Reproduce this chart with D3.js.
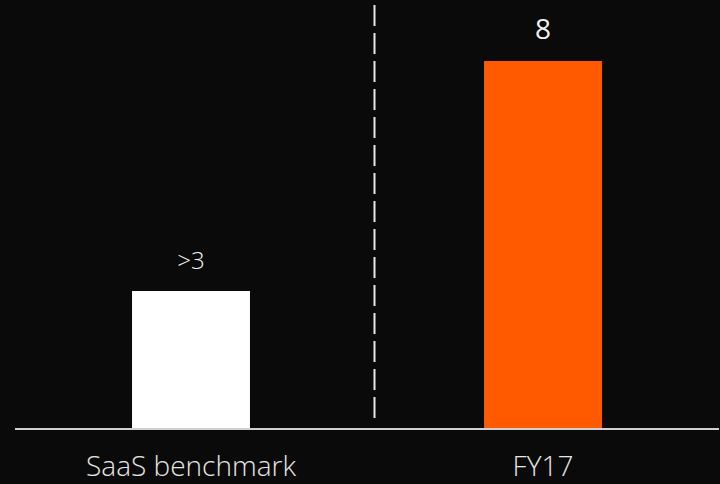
<!DOCTYPE html>
<html>
<head>
<meta charset="utf-8">
<script src="https://cdn.jsdelivr.net/npm/d3@7"></script>
<style>
  html, body { margin: 0; padding: 0; background: #0a0a0a; }
  svg { display: block; }
</style>
</head>
<body>
<svg class="svgMain" width="720" height="484"></svg>
<script>
// Two-bar comparison, dark theme.

var categories = ["SaaS benchmark", "FY17"];
var values = [3, 8];
var valueLabels = [">3", "8"];
var barColors = ["#ffffff", "#ff5a00"];

var W = 720, H = 484;
var BASE_Y = 429;
var TOP_Y = 61;
var DIVIDER_X = 374.5;

var svgMain = d3.select(".svgMain");

svgMain.append("rect")
    .attr("x", 0).attr("y", 0)
    .attr("width", W).attr("height", H)
    .attr("fill", "#0a0a0a");

var x = d3.scaleBand()
    .domain(categories)
    .range([15, 719])
    .paddingInner(0.665)
    .paddingOuter(0.3325);

var y = d3.scaleLinear()
    .domain([0, 8])
    .range([BASE_Y, TOP_Y]);

// Bars
svgMain.selectAll(".bar")
    .data(categories)
    .enter().append("rect")
    .attr("class", "bar")
    .attr("x", function (d) { return x(d); })
    .attr("y", function (d, i) { return y(values[i]); })
    .attr("width", x.bandwidth())
    .attr("height", function (d, i) { return y(0) - y(values[i]); })
    .attr("fill", function (d, i) { return barColors[i]; });

// Dashed divider
svgMain.append("line")
    .attr("x1", DIVIDER_X).attr("x2", DIVIDER_X)
    .attr("y1", 5).attr("y2", 421)
    .attr("stroke", "#e8e8e8")
    .attr("stroke-width", 2)
    .attr("stroke-dasharray", "21,7");

// Baseline
svgMain.append("line")
    .attr("x1", 15).attr("x2", 719)
    .attr("y1", BASE_Y).attr("y2", BASE_Y)
    .attr("stroke", "#d0d0d0")
    .attr("stroke-width", 2);

// Value labels
svgMain.selectAll(".valLabel")
    .data(categories)
    .enter().append("text")
    .attr("class", "valLabel")
    .attr("x", function (d) { return x(d) + x.bandwidth() / 2; })
    .attr("y", function (d, i) { return y(values[i]) - 22; })
    .attr("text-anchor", "middle")
    .attr("fill", "#f2f2f2")
    .style("font-family", "'Open Sans', sans-serif")
    .style("font-weight", function (d, i) { return i === 1 ? 400 : 300; })
    .style("font-size", function (d, i) { return i === 1 ? "28px" : "24px"; })
    .text(function (d, i) { return valueLabels[i]; });

// Category labels
svgMain.selectAll(".catLabel")
    .data(categories)
    .enter().append("text")
    .attr("class", "catLabel")
    .attr("x", function (d) { return x(d) + x.bandwidth() / 2; })
    .attr("y", 476)
    .attr("text-anchor", "middle")
    .attr("fill", "#e6e6e6")
    .style("font-family", "'Open Sans', sans-serif")
    .style("font-weight", 300)
    .style("font-size", "28px")
    .text(function (d) { return d; });
</script>
</body>
</html>
